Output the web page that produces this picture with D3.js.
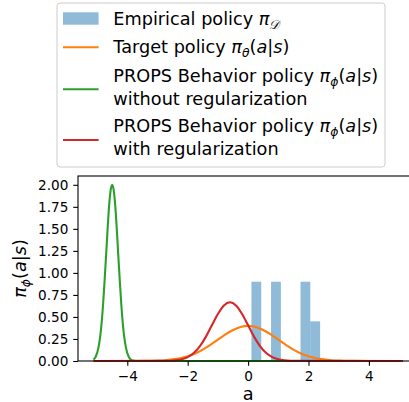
<!DOCTYPE html>
<meta charset="utf-8">
<title>PROPS behavior policy</title>
<style>
    body { margin: 0; background: #fff; }
    text { font-family: "DejaVu Sans", sans-serif; fill: #000; }
    .tick line { stroke: #000; stroke-width: 1.1px; }
    .tick text { font-size: 13.6px; }
</style>
<svg width="409" height="402"></svg>
<script src="https://d3js.org/d3.v7.min.js"></script>
<script>

    // histogram of the empirical policy (bin edges and densities)
    var binEdges = [0.11, 0.435, 0.76, 1.085, 1.41, 1.735, 2.06, 2.385];
    var binDensity = [0.90, 0, 0.90, 0, 0, 0.90, 0.45];

    // target policy
    var targetX = [-5.12, -4, -3.5, -3, -2.75, -2.5, -2.25, -2, -1.75, -1.5, -1.25, -1, -0.75, -0.5, -0.25, 0,
                   0.25, 0.5, 0.75, 1, 1.25, 1.5, 1.75, 2, 2.25, 2.5, 2.75, 3, 3.5, 4, 5.12];
    var targetY = [0, 0, 0.001, 0.004, 0.009, 0.018, 0.032, 0.054, 0.086, 0.130, 0.183, 0.242, 0.301, 0.352, 0.387, 0.399,
                   0.387, 0.352, 0.301, 0.242, 0.183, 0.130, 0.086, 0.054, 0.032, 0.018, 0.009, 0.004, 0.001, 0, 0];

    // behavior policy without regularization
    var noRegX = [-5.12, -5.05, -4.95, -4.85, -4.8, -4.75, -4.7, -4.65, -4.6, -4.55, -4.5,
                  -4.45, -4.4, -4.35, -4.3, -4.25, -4.2, -4.15, -4.05, -3.95, -3.85, -3.7, 5.12];
    var noRegY = [0.016, 0.046, 0.16, 0.43, 0.65, 0.92, 1.21, 1.51, 1.77, 1.94, 2.0,
                  1.94, 1.77, 1.51, 1.21, 0.92, 0.65, 0.43, 0.16, 0.046, 0.01, 0, 0];

    // behavior policy with regularization
    var regX = [-5.12, -2.6, -2.4, -2.2, -2.0, -1.8, -1.6, -1.4, -1.2, -1.0, -0.8, -0.6,
                -0.4, -0.2, 0, 0.2, 0.4, 0.6, 0.8, 1.0, 1.2, 1.4, 5.12];
    var regY = [0, 0.003, 0.007, 0.019, 0.044, 0.090, 0.166, 0.274, 0.405, 0.534, 0.631, 0.667,
                0.631, 0.534, 0.405, 0.274, 0.166, 0.090, 0.044, 0.019, 0.007, 0.003, 0];

    var xTicks = [-4, -2, 0, 2, 4];
    var yTicks = [0, 0.25, 0.5, 0.75, 1.0, 1.25, 1.5, 1.75, 2.0];

    var svg = d3.select("svg");
    var axLeft = 78, axRight = 418.2, axTop = 176, axBottom = 361;

    var x = d3.scaleLinear().domain([-5.632, 5.632]).range([axLeft, axRight]);
    var y = d3.scaleLinear().domain([0, 2.1]).range([axBottom, axTop]);

    var plot = svg.append("g");

    // bars
    plot.selectAll("rect.bin")
        .data(binDensity)
        .enter().append("rect")
        .attr("class", "bin")
        .attr("x", function (d, i) { return x(binEdges[i]); })
        .attr("width", function (d, i) { return x(binEdges[i + 1]) - x(binEdges[i]); })
        .attr("y", function (d) { return y(d); })
        .attr("height", function (d) { return y(0) - y(d); })
        .attr("fill", "#1f77b4")
        .attr("fill-opacity", 0.5);

    var line = d3.line()
        .x(function (d) { return x(d[0]); })
        .y(function (d) { return y(d[1]); })
        .curve(d3.curveMonotoneX);

    function zip(a, b) { return a.map(function (v, i) { return [v, b[i]]; }); }

    var series = [
        { pts: zip(targetX, targetY), color: "#ff7f0e" },
        { pts: zip(noRegX, noRegY), color: "#2ca02c" },
        { pts: zip(regX, regY), color: "#d62728" }
    ];

    plot.selectAll("path.curve")
        .data(series)
        .enter().append("path")
        .attr("class", "curve")
        .attr("d", function (d) { return line(d.pts); })
        .attr("fill", "none")
        .attr("stroke", function (d) { return d.color; })
        .attr("stroke-width", 2.1)
        .attr("stroke-linejoin", "round");

    // axes
    svg.append("g")
        .attr("transform", "translate(0," + axBottom + ")")
        .call(d3.axisBottom(x).tickValues(xTicks).tickSize(4.8).tickPadding(5.2).tickFormat(d3.format("d")))
        .call(function (g) { g.select(".domain").remove(); });

    svg.append("g")
        .attr("transform", "translate(" + axLeft + ",0)")
        .call(d3.axisLeft(y).tickValues(yTicks).tickSize(4.8).tickPadding(4.9).tickFormat(d3.format(".2f")))
        .call(function (g) { g.select(".domain").remove(); });

    svg.selectAll(".tick text").attr("font-family", null).attr("font-size", null);

    // spines
    svg.append("rect")
        .attr("x", axLeft).attr("y", axTop)
        .attr("width", axRight - axLeft).attr("height", axBottom - axTop)
        .attr("fill", "none").attr("stroke", "#000").attr("stroke-width", 1.1);

    // math text helper: parts are [text, style] with style n (normal), i (italic), s (italic subscript)
    function mathText(sel, parts, size) {
        var shift = size * 0.22, down = false;
        parts.forEach(function (p) {
            var t = sel.append("tspan").text(p[0]);
            if (p[1] !== "n") t.style("font-style", "italic");
            if (p[1] === "s") {
                t.attr("font-size", size * 0.7);
                if (!down) { t.attr("dy", shift); down = true; }
            } else if (down) {
                t.attr("dy", -shift); down = false;
            }
        });
        return sel;
    }

    var fs = 17.7;

    // axis labels
    svg.append("text")
        .attr("x", x(0)).attr("y", 400)
        .attr("text-anchor", "middle")
        .attr("font-size", fs)
        .text("a");

    mathText(svg.append("text")
        .attr("transform", "translate(26," + (axTop + axBottom) / 2 + ") rotate(-90)")
        .attr("text-anchor", "middle")
        .attr("font-size", fs),
        [["π", "i"], ["ϕ", "s"], ["(", "n"], ["a", "i"], ["|", "n"], ["s", "i"], [")", "n"]], fs);

    // legend
    var legend = svg.append("g");
    legend.append("rect")
        .attr("x", 57).attr("y", 3)
        .attr("width", 328).attr("height", 164)
        .attr("rx", 3)
        .attr("fill", "#fff").attr("fill-opacity", 0.8)
        .attr("stroke", "#cccccc").attr("stroke-width", 1);

    var behave = [["PROPS Behavior policy ", "n"], ["π", "i"], ["ϕ", "s"], ["(", "n"], ["a", "i"], ["|", "n"], ["s", "i"], [")", "n"]];
    var entries = [
        { kind: "patch", color: "#1f77b4", hy: 18.5, lines: [[["Empirical policy ", "n"], ["π", "i"], ["𝒟", "s"]]], base: [25] },
        { kind: "line", color: "#ff7f0e", hy: 47.3, lines: [[["Target policy ", "n"], ["π", "i"], ["θ", "s"], ["(", "n"], ["a", "i"], ["|", "n"], ["s", "i"], [")", "n"]]], base: [53.3] },
        { kind: "line", color: "#2ca02c", hy: 89.3, lines: [behave, [["without regularization", "n"]]], base: [81.7, 104.8] },
        { kind: "line", color: "#d62728", hy: 140, lines: [behave, [["with regularization", "n"]]], base: [132.3, 155.2] }
    ];

    entries.forEach(function (e) {
        if (e.kind === "patch") {
            legend.append("rect")
                .attr("x", 63).attr("y", e.hy - 6.2)
                .attr("width", 35.6).attr("height", 12.4)
                .attr("fill", e.color).attr("fill-opacity", 0.5);
        } else {
            legend.append("line")
                .attr("x1", 63).attr("x2", 98.6)
                .attr("y1", e.hy).attr("y2", e.hy)
                .attr("stroke", e.color).attr("stroke-width", 2.1);
        }
        e.lines.forEach(function (parts, i) {
            mathText(legend.append("text")
                .attr("x", 113.3).attr("y", e.base[i])
                .attr("font-size", fs), parts, fs);
        });
    });

</script>
